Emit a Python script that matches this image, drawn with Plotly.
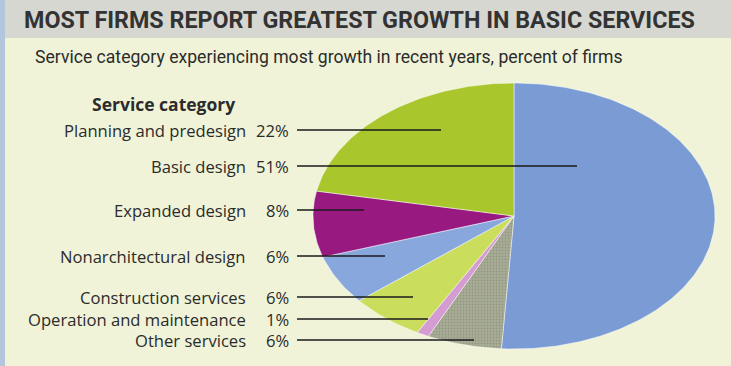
import numpy as np
import plotly.graph_objects as go

# data, in the order the slices run clockwise from 12 o'clock
categories = ["Basic design", "Other services", "Operation and maintenance",
              "Construction services", "Nonarchitectural design",
              "Expanded design", "Planning and predesign"]
shares = [51, 6, 1, 6, 6, 8, 22]
colors = ["#7b9bd5", "#a9ad97", "#d59bd3", "#cadd5c", "#87a7dd",
          "#981a80", "#a9c72c"]

# label column order (top to bottom)
label_order = ["Planning and predesign", "Basic design", "Expanded design",
               "Nonarchitectural design", "Construction services",
               "Operation and maintenance", "Other services"]
label_y = [130, 166, 210, 256, 297, 319, 340]
leader_end_x = [441, 577, 364, 385, 413, 428, 474]

# ellipse geometry in page pixels
cx, cy, a, b = 514, 216, 201, 133

fig = go.Figure()

# title band and page background
fig.add_shape(type="rect", xref="paper", yref="paper", x0=0, x1=1, y0=0, y1=1,
              fillcolor="#f0f3d8", line_width=0, layer="below")
fig.add_shape(type="rect", xref="x", yref="y", x0=0, x1=731, y0=0, y1=38,
              fillcolor="#d6d7d0", line_width=0, layer="below")
fig.add_shape(type="rect", xref="x", yref="y", x0=0, x1=5, y0=0, y1=366,
              fillcolor="#b4c6dc", line_width=0, layer="below")

total = float(sum(shares))
start = 0.0
for name, val, col in zip(categories, shares, colors):
    t0 = start / total * 2 * np.pi
    t1 = (start + val) / total * 2 * np.pi
    th = np.linspace(t0, t1, max(int(val * 4), 8))
    xs = np.concatenate([[cx], cx + a * np.sin(th), [cx]])
    ys = np.concatenate([[cy], cy - b * np.cos(th), [cy]])
    kw = {}
    if name == "Other services":
        kw["fillpattern"] = dict(shape=".", fgcolor="#7f846c", bgcolor=col,
                                 size=3, solidity=0.35)
    fig.add_trace(go.Scatter(
        x=xs, y=ys, mode="lines", fill="toself", fillcolor=col,
        line=dict(color="rgba(255,255,255,0.6)", width=0.8),
        hoverinfo="text", text=f"{name} {val}%", showlegend=False, **kw,
    ))
    start += val

# labels and leader lines
share_of = dict(zip(categories, shares))
label_font = dict(family="Open Sans, Lato, sans-serif", size=16.6, color="#2b2b2b")
for name, y, x_end in zip(label_order, label_y, leader_end_x):
    fig.add_annotation(x=248, y=y, xref="x", yref="y", text=name,
                       showarrow=False, xanchor="right", yanchor="middle",
                       font=label_font)
    fig.add_annotation(x=291, y=y, xref="x", yref="y", text=f"{share_of[name]}%",
                       showarrow=False, xanchor="right", yanchor="middle",
                       font=label_font)
    fig.add_shape(type="line", xref="x", yref="y", x0=297, x1=x_end, y0=y, y1=y,
                  line=dict(color="#1a1a1a", width=1.3))

fig.add_annotation(x=163, y=104, xref="x", yref="y", text="<b>Service category</b>",
                   showarrow=False, xanchor="center", yanchor="middle",
                   font=dict(family="Open Sans, Lato, sans-serif", size=17.5,
                             color="#2b2b2b"))

fig.add_annotation(x=22, y=20, xref="x", yref="y",
                   text="<b>MOST FIRMS REPORT GREATEST GROWTH IN BASIC SERVICES</b>",
                   showarrow=False, xanchor="left", yanchor="middle",
                   font=dict(family="Liberation Sans Narrow, Roboto, sans-serif",
                             size=23.3, color="#333333"))
fig.add_annotation(x=33, y=57, xref="x", yref="y",
                   text="Service category experiencing most growth in recent years, percent of firms",
                   showarrow=False, xanchor="left", yanchor="middle",
                   font=dict(family="Liberation Sans Narrow, Roboto, sans-serif",
                             size=17.6, color="#2b2b2b"))

fig.update_xaxes(range=[0, 731], visible=False, fixedrange=True)
fig.update_yaxes(range=[366, 0], visible=False, fixedrange=True)
fig.update_layout(width=731, height=366, margin=dict(l=0, r=0, t=0, b=0),
                  paper_bgcolor="#f0f3d8", plot_bgcolor="rgba(0,0,0,0)")

fig.write_html("out.html", config={"displayModeBar": False},
               post_script="document.body.style.margin='0px';")
